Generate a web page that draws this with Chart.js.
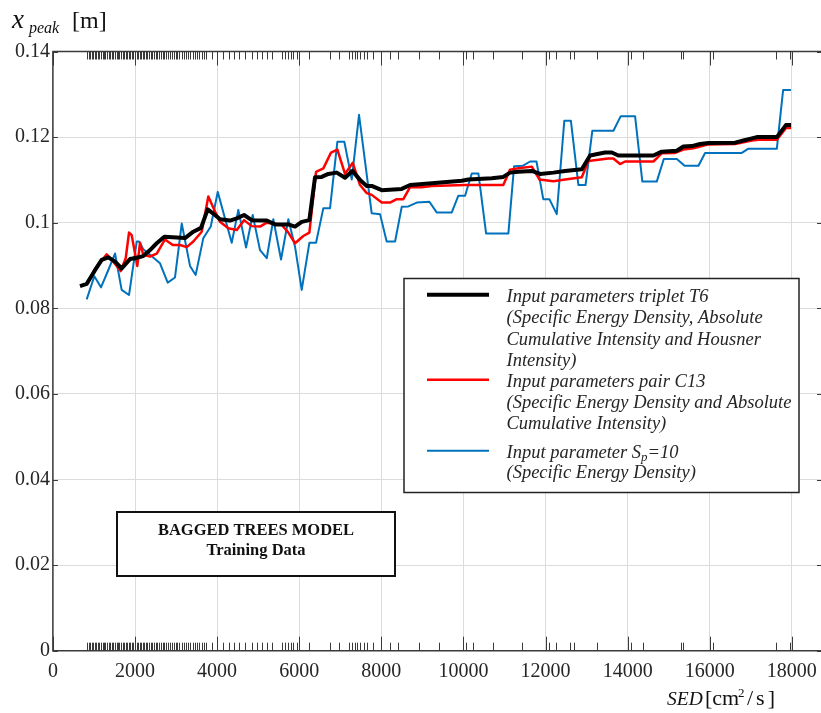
<!DOCTYPE html>
<html>
<head>
<meta charset="utf-8">
<title>x_peak vs SED - bagged trees model</title>
<script src="https://cdn.jsdelivr.net/npm/chart.js@4.4.1/dist/chart.umd.min.js"></script>
<style>
  html, body { margin: 0; padding: 0; background: #fff; }
  #wrap { width: 821px; height: 713px; }
</style>
</head>
<body>
<div id="wrap"><canvas id="xpeakChart" width="821" height="713"></canvas></div>
<script>
// --- valores (SED en cm2/s, x_peak en m) ---
const sedT6 = [660, 823, 1026, 1188, 1350, 1513, 1675, 1878, 2042, 2202, 2366, 2529, 2714, 3218, 3420, 3608, 3771, 3949, 4071, 4314, 4478, 4656, 4843, 5209, 5410, 5735, 5898, 6061, 6247, 6385, 6548, 6709, 6914, 7116, 7295, 7481, 7645, 7766, 8010, 8497, 8700, 9228, 9960, 10120, 10690, 10971, 11136, 11338, 11665, 11867, 12191, 12476, 12883, 13085, 13450, 13614, 13774, 14627, 14831, 15197, 15358, 15563, 15765, 15967, 16618, 16820, 17024, 17146, 17634, 17854, 17982];
const xpT6 = [0.0852, 0.0857, 0.0889, 0.0913, 0.0919, 0.0909, 0.0893, 0.0915, 0.0918, 0.0922, 0.0936, 0.0952, 0.0967, 0.0964, 0.0979, 0.0988, 0.1031, 0.1018, 0.1008, 0.1005, 0.1010, 0.1018, 0.1006, 0.1005, 0.0996, 0.0996, 0.0991, 0.1002, 0.1006, 0.1106, 0.1107, 0.1114, 0.1117, 0.1105, 0.1121, 0.1100, 0.1086, 0.1086, 0.1076, 0.1079, 0.1088, 0.1092, 0.1098, 0.1101, 0.1104, 0.1107, 0.1117, 0.1119, 0.1121, 0.1114, 0.1117, 0.1121, 0.1125, 0.1157, 0.1164, 0.1164, 0.1157, 0.1157, 0.1166, 0.1168, 0.1178, 0.1179, 0.1184, 0.1186, 0.1187, 0.1192, 0.1197, 0.1200, 0.1200, 0.1228, 0.1228];

const sedC13 = [984, 1311, 1472, 1651, 1774, 1854, 1919, 2001, 2056, 2122, 2202, 2366, 2529, 2731, 2919, 3097, 3259, 3420, 3625, 3786, 3949, 4071, 4273, 4478, 4656, 4843, 5045, 5209, 5574, 5735, 5898, 6100, 6247, 6410, 6588, 6775, 6929, 7116, 7304, 7481, 7645, 7766, 8010, 8212, 8375, 8536, 8700, 8985, 9228, 10040, 10971, 11136, 11338, 11665, 11850, 12191, 12476, 12883, 13045, 13287, 13531, 13652, 13815, 13938, 14627, 14831, 15155, 15358, 15602, 15765, 15967, 16618, 16820, 17024, 17185, 17634, 17854, 17982];
const xpC13 = [0.0886, 0.0926, 0.0909, 0.0887, 0.0917, 0.0977, 0.0971, 0.0928, 0.0899, 0.0953, 0.0925, 0.0921, 0.0928, 0.0961, 0.0948, 0.0948, 0.0943, 0.0956, 0.0979, 0.1061, 0.1026, 0.1002, 0.0987, 0.0983, 0.1006, 0.0992, 0.0991, 0.1000, 0.0995, 0.0977, 0.0952, 0.0969, 0.0977, 0.1119, 0.1127, 0.1164, 0.1171, 0.1114, 0.1140, 0.1088, 0.1069, 0.1065, 0.1047, 0.1047, 0.1055, 0.1055, 0.1083, 0.1083, 0.1086, 0.1088, 0.1088, 0.1124, 0.1127, 0.1131, 0.1101, 0.1097, 0.1101, 0.1106, 0.1144, 0.1147, 0.1150, 0.1150, 0.1137, 0.1143, 0.1143, 0.1162, 0.1163, 0.1171, 0.1174, 0.1178, 0.1183, 0.1184, 0.1188, 0.1192, 0.1194, 0.1194, 0.1221, 0.1221];

const sedSp10 = [823, 1009, 1171, 1335, 1513, 1675, 1854, 2042, 2098, 2202, 2366, 2609, 2797, 2974, 3138, 3340, 3478, 3664, 3845, 4015, 4193, 4356, 4517, 4705, 4867, 5045, 5209, 5369, 5557, 5735, 5898, 6061, 6247, 6410, 6588, 6751, 6929, 7099, 7280, 7457, 7766, 7969, 8130, 8335, 8497, 8659, 8863, 9171, 9348, 9716, 9877, 10040, 10203, 10364, 10552, 11095, 11234, 11443, 11624, 11780, 11945, 12094, 12273, 12457, 12618, 12801, 12974, 13140, 13654, 13832, 14181, 14358, 14709, 14881, 15198, 15388, 15725, 15886, 16781, 16942, 17634, 17787, 17978];
const xpSp10 = [0.0821, 0.0875, 0.0849, 0.0886, 0.0928, 0.0843, 0.0831, 0.0956, 0.0956, 0.0938, 0.0925, 0.0905, 0.0860, 0.0872, 0.0998, 0.0899, 0.0878, 0.0964, 0.0991, 0.1072, 0.1010, 0.0953, 0.1030, 0.0942, 0.1018, 0.0936, 0.0917, 0.1008, 0.0914, 0.1008, 0.0944, 0.0843, 0.0953, 0.0953, 0.1034, 0.1034, 0.1189, 0.1189, 0.1101, 0.1252, 0.1022, 0.1020, 0.0956, 0.0956, 0.1037, 0.1038, 0.1047, 0.1049, 0.1024, 0.1024, 0.1063, 0.1063, 0.1115, 0.1115, 0.0975, 0.0975, 0.1132, 0.1133, 0.1143, 0.1143, 0.1055, 0.1055, 0.1020, 0.1238, 0.1238, 0.1088, 0.1088, 0.1215, 0.1215, 0.1249, 0.1249, 0.1096, 0.1096, 0.1149, 0.1149, 0.1133, 0.1133, 0.1163, 0.1163, 0.1173, 0.1173, 0.1310, 0.1310];

// marcas de los datos de entrenamiento (rug arriba y abajo)
const sedRug = [830, 870, 905, 950, 985, 1020, 1060, 1095, 1130, 1175, 1210, 1250, 1280, 1320, 1365, 1400, 1440, 1470, 1510, 1550, 1590, 1620, 1660, 1700, 1735, 1770, 1810, 1850, 1885, 1920, 1960, 2000, 2040, 2075, 2110, 2150, 2190, 2230, 2270, 2300, 2340, 2385, 2420, 2460, 2500, 2540, 2580, 2625, 2670, 2710, 2760, 2800, 2850, 2890, 2940, 2990, 3030, 3080, 3140, 3190, 3240, 3290, 3350, 3410, 3460, 3510, 3560, 3620, 3680, 3720, 3867, 4151, 4289, 4410, 4531, 4677, 4856, 4961, 5083, 5221, 5343, 5586, 5650, 5723, 5788, 5853, 5934, 6234, 6761, 6980, 7207, 7288, 7353, 7410, 7491, 7572, 7653, 7790, 8220, 8407, 8908, 9412, 10061, 10231, 10709, 11423, 12087, 12257, 12605, 12695, 13247, 14074, 14381, 15289, 15353, 16083, 17608, 17960];

const xTickValues = [0, 2000, 4000, 6000, 8000, 10000, 12000, 14000, 16000, 18000];
const yTickValues = [0, 0.02, 0.04, 0.06, 0.08, 0.1, 0.12, 0.14];

const legendTexts = [
    ['Input parameters triplet T6', '(Specific Energy Density, Absolute', 'Cumulative Intensity and Housner', 'Intensity)'],
    ['Input parameters pair C13', '(Specific Energy Density and Absolute', 'Cumulative Intensity)'],
    ['Input parameter S|p|=10', '(Specific Energy Density)']
];

const SERIF = '"Liberation Serif", "Times New Roman", serif';
const frameColor = '#3a3a3a';
const textColor = '#262626';

function toPoints(xs, ys) {
    return xs.map((x, i) => ({ x: x, y: ys[i] }));
}

// --- dibujo de marco, rug, leyenda, recuadro y títulos de ejes ---
const xpeakDecor = {
    id: 'xpeakDecor',
    afterDatasetsDraw(chart) {
        const ctx = chart.ctx;
        const area = chart.chartArea;
        const sx = chart.scales.x;
        const sy = chart.scales.y;
        ctx.save();

        // rug de datos (arriba y abajo)
        ctx.strokeStyle = frameColor;
        ctx.lineWidth = 1;
        ctx.beginPath();
        sedRug.forEach(v => {
            const px = Math.round(sx.getPixelForValue(v)) + 0.5;
            ctx.moveTo(px, area.top);
            ctx.lineTo(px, area.top + 8);
            ctx.moveTo(px, area.bottom);
            ctx.lineTo(px, area.bottom - 8);
        });
        ctx.stroke();

        // ticks mayores hacia dentro
        ctx.beginPath();
        xTickValues.forEach(v => {
            const px = Math.round(sx.getPixelForValue(v)) + 0.5;
            ctx.moveTo(px, area.top);
            ctx.lineTo(px, area.top + 14);
            ctx.moveTo(px, area.bottom);
            ctx.lineTo(px, area.bottom - 14);
        });
        yTickValues.forEach(v => {
            const py = Math.round(sy.getPixelForValue(v)) + 0.5;
            ctx.moveTo(area.left, py);
            ctx.lineTo(area.left + 5, py);
            ctx.moveTo(area.right, py);
            ctx.lineTo(area.right - 4, py);
        });
        ctx.stroke();

        // marco
        ctx.lineWidth = 1.5;
        ctx.beginPath();
        ctx.moveTo(area.right, area.top);
        ctx.lineTo(area.left, area.top);
        ctx.lineTo(area.left, area.bottom);
        ctx.lineTo(area.right, area.bottom);
        ctx.stroke();

        // leyenda
        const lg = { x: 404, y: 278.5, w: 395, h: 214 };
        ctx.fillStyle = '#fff';
        ctx.fillRect(lg.x, lg.y, lg.w, lg.h);
        ctx.strokeStyle = '#222';
        ctx.lineWidth = 1.5;
        ctx.strokeRect(lg.x, lg.y, lg.w, lg.h);
        const rows = [[296.7, 318.3, 340, 360.7], [381.7, 402.7, 424], [452.7, 473.3]];
        ctx.font = 'italic 18.5px ' + SERIF;
        ctx.textBaseline = 'middle';
        ctx.textAlign = 'left';
        chart.data.datasets.forEach((ds, i) => {
            ctx.strokeStyle = ds.borderColor;
            ctx.lineWidth = ds.borderWidth;
            ctx.beginPath();
            ctx.moveTo(427, rows[i][0] - 2);
            ctx.lineTo(489, rows[i][0] - 2);
            ctx.stroke();
            ctx.fillStyle = textColor;
            legendTexts[i].forEach((t, j) => {
                const y = rows[i][j];
                if (t.indexOf('|') >= 0) {
                    const parts = t.split('|');
                    let x = 506.5;
                    ctx.fillText(parts[0], x, y);
                    x += ctx.measureText(parts[0]).width;
                    ctx.font = 'italic 13px ' + SERIF;
                    ctx.fillText(parts[1], x, y + 5);
                    x += ctx.measureText(parts[1]).width;
                    ctx.font = 'italic 18.5px ' + SERIF;
                    ctx.fillText(parts[2], x, y);
                } else {
                    ctx.fillText(t, 506.5, y);
                }
            });
        });

        // recuadro del modelo
        ctx.fillStyle = '#fff';
        ctx.fillRect(117, 512, 278, 64);
        ctx.strokeStyle = '#111';
        ctx.lineWidth = 2;
        ctx.strokeRect(117, 512, 278, 64);
        ctx.fillStyle = '#111';
        ctx.textAlign = 'center';
        ctx.font = 'bold 16.5px ' + SERIF;
        ctx.fillText('BAGGED TREES MODEL', 256, 531);
        ctx.fillText('Training Data', 256, 551);

        // títulos de ejes
        ctx.textAlign = 'left';
        ctx.textBaseline = 'alphabetic';
        ctx.fillStyle = '#111';
        ctx.font = 'italic 27px ' + SERIF;
        ctx.fillText('x', 12, 28);
        ctx.font = 'italic 16px ' + SERIF;
        ctx.fillText('peak', 29, 33);
        ctx.font = '24px ' + SERIF;
        ctx.fillText('[m]', 72, 28);

        ctx.font = 'italic 19.5px ' + SERIF;
        ctx.fillText('SED', 667, 705);
        ctx.font = '22px ' + SERIF;
        ctx.fillText('[cm', 705, 705);
        ctx.font = '13px ' + SERIF;
        ctx.fillText('2', 738, 697);
        ctx.font = '22px ' + SERIF;
        ctx.letterSpacing = '3px';
        ctx.fillText('/s]', 747, 705);
        ctx.letterSpacing = '0px';

        ctx.restore();
    }
};

const tickFont = { family: SERIF, size: 20 };

new Chart(document.getElementById('xpeakChart'), {
    type: 'line',
    data: {
        datasets: [
            { label: 'T6', data: toPoints(sedT6, xpT6), borderColor: '#000000', borderWidth: 4 },
            { label: 'C13', data: toPoints(sedC13, xpC13), borderColor: '#ff0000', borderWidth: 2.5 },
            { label: 'Sp10', data: toPoints(sedSp10, xpSp10), borderColor: '#0072bd', borderWidth: 2 }
        ]
    },
    options: {
        responsive: false,
        animation: false,
        devicePixelRatio: 1,
        layout: { padding: { top: 51.5, left: 0, right: 0, bottom: 0 } },
        elements: {
            point: { radius: 0 },
            line: { tension: 0, borderJoinStyle: 'round', fill: false }
        },
        plugins: { legend: { display: false }, tooltip: { enabled: false } },
        scales: {
            x: {
                type: 'linear',
                min: 0,
                max: 18710,
                afterBuildTicks: s => { s.ticks = xTickValues.map(v => ({ value: v })); },
                afterFit: s => { s.height = 62.3; s.paddingLeft = 0; s.paddingRight = 0; },
                grid: { color: '#dcdcdc', drawTicks: false },
                border: { display: false },
                ticks: {
                    padding: 9,
                    color: textColor,
                    font: tickFont,
                    maxRotation: 0,
                    autoSkip: false,
                    callback: v => String(v)
                }
            },
            y: {
                type: 'linear',
                min: 0,
                max: 0.14,
                afterBuildTicks: s => { s.ticks = yTickValues.map(v => ({ value: v })); },
                afterFit: s => { s.width = 52.9; s.paddingTop = 0; s.paddingBottom = 0; },
                grid: { color: '#dcdcdc', drawTicks: false },
                border: { display: false },
                ticks: {
                    padding: 3,
                    color: textColor,
                    font: tickFont,
                    autoSkip: false,
                    callback: v => String(Number(v.toFixed(2)))
                }
            }
        }
    },
    plugins: [xpeakDecor]
});
</script>
</body>
</html>
